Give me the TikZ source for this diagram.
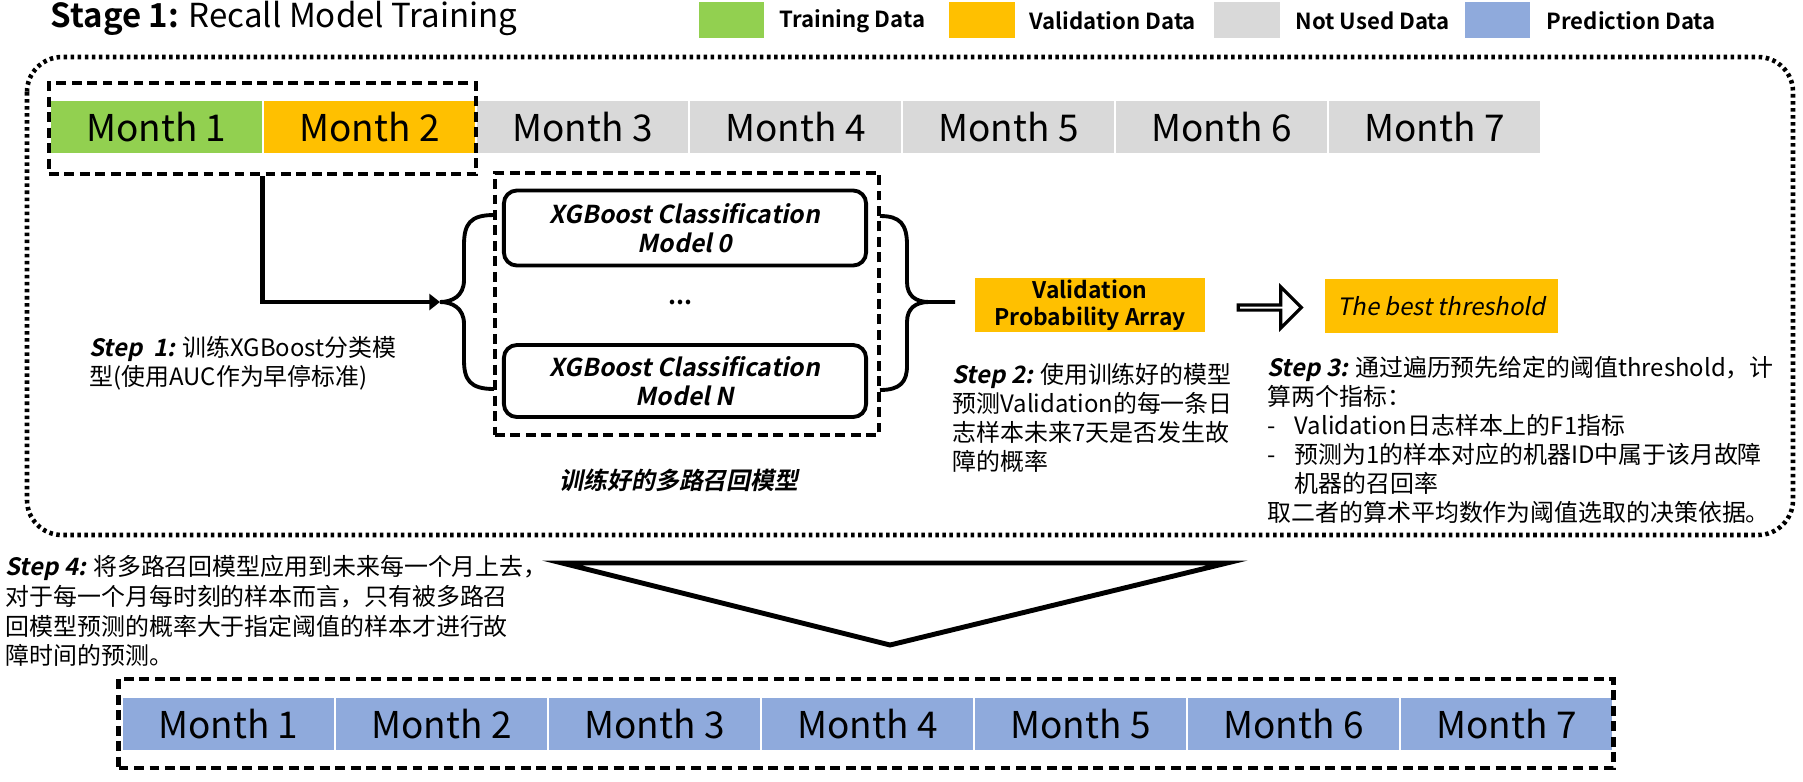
\documentclass[tikz,border=0pt]{standalone}
\usepackage{fontspec}
\setmainfont{Noto Sans CJK SC}[
  BoldFont={* Bold}, ItalicFont={*}, BoldItalicFont={* Bold},
  ItalicFeatures={FakeSlant=0.2}, BoldItalicFeatures={FakeSlant=0.2}]
\usetikzlibrary{arrows.meta, shapes.arrows}
\definecolor{traingreen}{HTML}{92D050}
\definecolor{validorange}{HTML}{FFC000}
\definecolor{unusedgray}{HTML}{D9D9D9}
\definecolor{predblue}{HTML}{8FAADC}

\begin{document}
\begin{tikzpicture}[
    x=0.01cm, y=-0.01cm,
    every node/.append style = {inner sep=0pt},
    month/.style = {draw=white, line width=0.6pt, minimum width=2.13cm,
      minimum height=0.54cm, font=\fontsize{10.5}{12}\selectfont},
    legbox/.style = {minimum width=0.65cm, minimum height=0.36cm},
    legtext/.style = {anchor=west, font=\fontsize{6.3}{8}\selectfont\bfseries},
    dashbox/.style = {draw, line width=1.3pt, dash pattern=on 2.8pt off 1.6pt},
    model/.style = {draw, line width=1.1pt, rounded corners=0.13cm,
      minimum width=3.62cm, align=center,
      font=\fontsize{7}{8.3}\selectfont\bfseries\itshape},
    note/.style = {anchor=north west, align=left,
      font=\fontsize{6.8}{8.2}\selectfont},
    orangebox/.style = {fill=validorange, minimum height=0.54cm, align=center},
    brace/.style = {line width=1.1pt}
  ]
  \useasboundingbox (0,0) rectangle (1803,781);

  % title and legend
  \node[anchor=west, font=\fontsize{9.4}{11}\selectfont] (title) at (50,18)
    {\textbf{Stage 1:} Recall Model Training};
  \node[legbox, fill=traingreen] (legtrain) at (731.5,20) {};
  \node[legtext] (legtraintxt) at (779,21) {Training Data};
  \node[legbox, fill=validorange] (legvalid) at (982,20) {};
  \node[legtext] (legvalidtxt) at (1029,21) {Validation Data};
  \node[legbox, fill=unusedgray] (legunused) at (1247,20) {};
  \node[legtext] (legunusedtxt) at (1295,21) {Not Used Data};
  \node[legbox, fill=predblue] (legpred) at (1497.5,20) {};
  \node[legtext] (legpredtxt) at (1546,21) {Prediction Data};

  % stage 1 frame
  \draw[line width=1.3pt, dash pattern=on 1pt off 1pt, rounded corners=0.35cm]
    (27,57) rectangle (1793,535);

  \foreach \i/\c in {1/traingreen,2/validorange,3/unusedgray,4/unusedgray,
                     5/unusedgray,6/unusedgray,7/unusedgray} {
    \node[month, fill=\c] (top\i) at ({50+213*(\i-0.5)},127) {Month \i};
  }
  \node[dashbox, minimum width=4.27cm, minimum height=0.91cm] (trainbox)
    at (262.5,128.5) {};

  % recall models
  \node[dashbox, minimum width=3.84cm, minimum height=2.62cm] (modelbox)
    at (687,304) {};
  \node[model, minimum height=0.75cm] (model0) at (685,228)
    {XGBoost Classification\\Model 0};
  \node[font=\fontsize{7}{8}\selectfont\bfseries] (dots) at (680,302) {...};
  \node[model, minimum height=0.72cm] (modelN) at (685,381)
    {XGBoost Classification\\Model N};
  \node[font=\fontsize{6.8}{8}\selectfont\bfseries\itshape] (modelname)
    at (679,480) {训练好的多路召回模型};

  \coordinate (ltip) at (440,302);
  \coordinate (rtip) at (955,302);
  \draw[brace] (494,215) .. controls (470,215) and (464,224) .. (464,245)
    -- (464,280) .. controls (464,296) and (452,302) .. (ltip)
    .. controls (452,302) and (464,308) .. (464,324)
    -- (464,360) .. controls (464,380) and (470,389) .. (494,389);
  \draw[brace] (880,216) .. controls (900,216) and (907,224) .. (907,245)
    -- (907,282) .. controls (907,296) and (916,302) .. (929,302) -- (rtip)
    (929,302) .. controls (916,302) and (907,308) .. (907,322)
    -- (907,366) .. controls (907,382) and (900,390) .. (880,390);
  \draw[line width=1.2pt, -{Triangle[length=3pt,width=4.5pt]}]
    (trainbox.south) |- (ltip);

  % threshold
  \node[orangebox, minimum width=2.30cm,
    font=\fontsize{6.5}{7.8}\selectfont\bfseries] (valarray) at (1090,305)
    {Validation\\Probability Array};
  \node[draw, line width=0.9pt, fill=white, single arrow,
    single arrow head extend=0.11cm, minimum width=0.41cm,
    minimum height=0.63cm] (harrow) at (1268.5,307.5) {};
  \node[orangebox, minimum width=2.33cm,
    font=\fontsize{6.8}{8}\selectfont\itshape] (bestthr) at (1441.5,306)
    {The best threshold};

  % step notes
  \node[note] (step1) at (89,336)
    {\textbf{\textit{Step\ \ 1:}} 训练XGBoost分类模\\型(使用AUC作为早停标准)};
  \node[note] (step2) at (952,363)
    {\textbf{\textit{Step 2:}} 使用训练好的模型\\预测Validation的每一条日\\志样本未来7天是否发生故\\障的概率};
  \node[note] (step3) at (1267,356)
    {\textbf{\textit{Step 3:}} 通过遍历预先给定的阈值threshold，计\\算两个指标：\\\makebox[0.27cm][l]{-}Validation日志样本上的F1指标\\\makebox[0.27cm][l]{-}预测为1的样本对应的机器ID中属于该月故障\\\hspace*{0.27cm}机器的召回率\\取二者的算术平均数作为阈值选取的决策依据。};
  \node[note, font=\fontsize{6.8}{8.4}\selectfont] (step4) at (5,555)
    {\textbf{\textit{Step 4:}} 将多路召回模型应用到未来每一个月上去，\\对于每一个月每时刻的样本而言，只有被多路召\\回模型预测的概率大于指定阈值的样本才进行故\\障时间的预测。};

  % prediction stage
  \draw[line width=1.4pt, miter limit=20] (562,563) -- (1227,563) -- (890,645) -- cycle;
  \foreach \i in {1,...,7} {
    \node[month, fill=predblue] (bot\i) at ({122+213*(\i-0.5)},724) {Month \i};
  }
  \node[dashbox, minimum width=14.94cm, minimum height=0.89cm] (predbox)
    at (866,723.5) {};
\end{tikzpicture}
\end{document}
